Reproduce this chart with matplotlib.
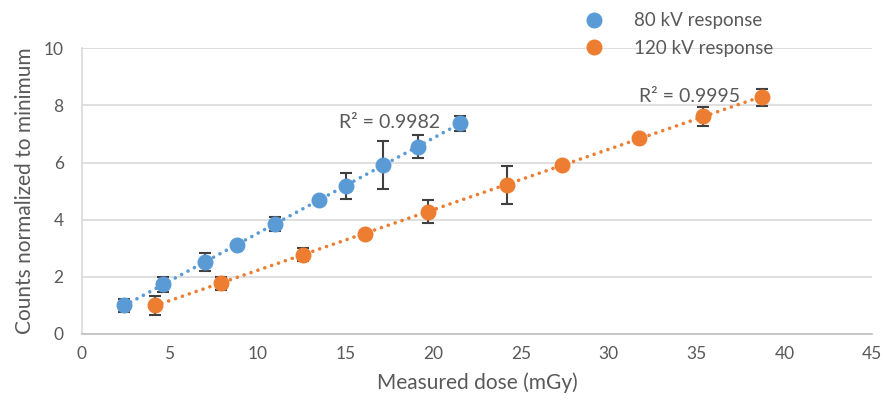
import matplotlib
matplotlib.use("Agg")
import matplotlib.pyplot as plt
import numpy as np

plt.rcParams['font.family'] = ['Lato', 'DejaVu Sans']

# 80 kV series
dose_80 = [2.42, 4.64, 7.03, 8.82, 11.00, 13.49, 15.03, 17.13, 19.16, 21.53]
resp_80 = [1.00, 1.74, 2.51, 3.12, 3.85, 4.70, 5.17, 5.92, 6.56, 7.37]
err_80 = [0.22, 0.27, 0.31, 0.0, 0.26, 0.0, 0.45, 0.85, 0.41, 0.26]

# 120 kV series
dose_120 = [4.17, 7.91, 12.58, 16.12, 19.69, 24.19, 27.35, 31.70, 35.36, 38.70]
resp_120 = [1.00, 1.77, 2.78, 3.51, 4.28, 5.22, 5.92, 6.85, 7.62, 8.28]
err_120 = [0.33, 0.24, 0.24, 0.0, 0.40, 0.67, 0.0, 0.0, 0.33, 0.31]

r2_80 = "R\u00b2 = 0.9982"
r2_120 = "R\u00b2 = 0.9995"

blue = "#5B9BD5"
orange = "#ED7D31"
grey = "#595959"

fig = plt.figure(figsize=(8.86, 4.08), dpi=100)
ax = fig.add_axes([0.0922, 0.1814, 0.8923, 0.7002])

def draw_series(x, y, err, color, label):
    x = np.array(x)
    y = np.array(y)
    # linear trendline
    k, b = np.polyfit(x, y, 1)
    xs = np.array([x.min(), x.max()])
    ax.plot(xs, k * xs + b, color=color, linewidth=2.6,
            linestyle=(0, (0.01, 2.0)), dash_capstyle='round', zorder=2)
    ax.errorbar(x, y, yerr=err, fmt='none', ecolor='#404040',
                elinewidth=1.5, capsize=4, capthick=1.5, zorder=3)
    ax.plot(x, y, 'o', color=color, markersize=10.5, label=label, zorder=4)

draw_series(dose_80, resp_80, err_80, blue, "80 kV response")
draw_series(dose_120, resp_120, err_120, orange, "120 kV response")

ax.text(20.4, 7.4, r2_80, color=grey, fontsize=14, va='center', ha='right')
ax.text(37.5, 8.3, r2_120, color=grey, fontsize=14, va='center', ha='right')

ax.set_xlim(0, 45)
ax.set_ylim(0, 10)
ax.set_xticks(range(0, 46, 5))
ax.set_yticks(range(0, 11, 2))
ax.tick_params(axis='both', length=0, colors=grey, labelsize=12.5)
ax.tick_params(axis='y', pad=13)
ax.tick_params(axis='x', pad=9)

ax.grid(axis='y', color='#D9D9D9', linewidth=1.2)
ax.set_axisbelow(True)
for s in ['top', 'right']:
    ax.spines[s].set_visible(False)
ax.spines['left'].set_color('#D9D9D9')
ax.spines['bottom'].set_color('#BFBFBF')
ax.spines['left'].set_linewidth(1.2)
ax.spines['bottom'].set_linewidth(1.2)

ax.set_xlabel("Measured dose (mGy)", color=grey, fontsize=15, labelpad=7)
ax.set_ylabel("Counts normalized to minimum", color=grey, fontsize=15, labelpad=6)

leg = ax.legend(loc='upper left', bbox_to_anchor=(0.66, 0.97),
                bbox_transform=fig.transFigure, frameon=False, fontsize=13.5,
                handlelength=1, handletextpad=1.6, labelspacing=0.55,
                borderpad=0, borderaxespad=0)
for t in leg.get_texts():
    t.set_color(grey)

fig.savefig("out.png", dpi=100)
